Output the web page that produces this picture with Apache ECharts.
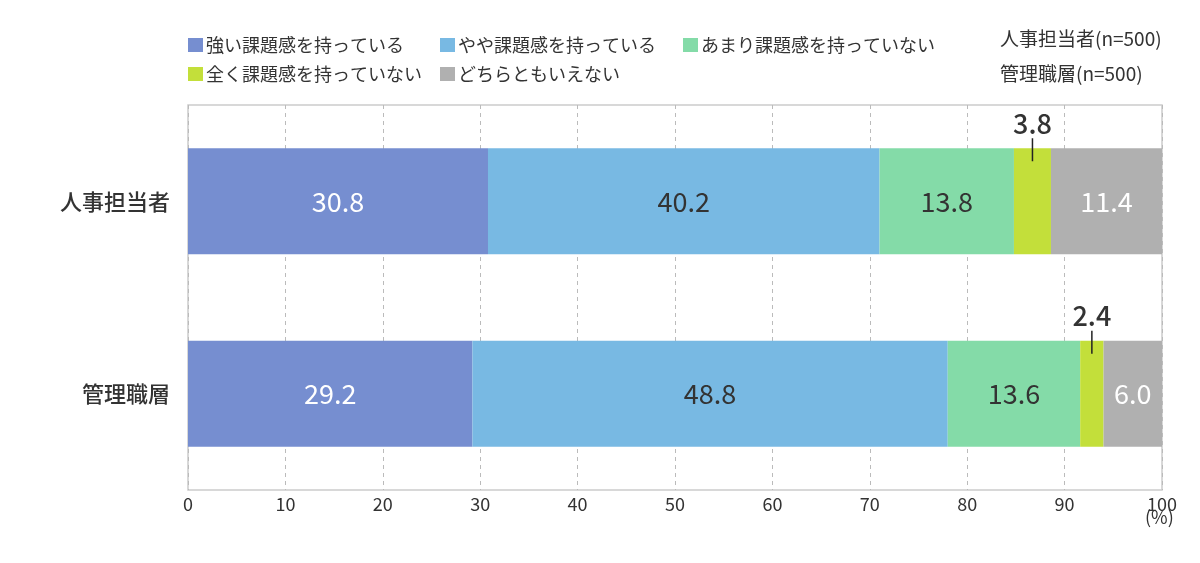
<!DOCTYPE html>
<html><head><meta charset="utf-8">
<script src="https://cdn.jsdelivr.net/npm/echarts@6/dist/echarts.min.js"></script>
<style>html,body{margin:0;padding:0;background:#fff}#c{width:1200px;height:563px}</style>
</head><body><div id="c"></div>
<script>
const categories = ['人事担当者', '管理職層'];
const seriesNames = ['強い課題感を持っている', 'やや課題感を持っている', 'あまり課題感を持っていない', '全く課題感を持っていない', 'どちらともいえない'];
const strong = [30.8, 29.2];
const somewhat = [40.2, 48.8];
const notMuch = [13.8, 13.6];
const notAtAll = [3.8, 2.4];
const neither = [11.4, 6.0];
const xTicks = [0, 10, 20, 30, 40, 50, 60, 70, 80, 90, 100];
const sampleNotes = ['人事担当者(n=500)', '管理職層(n=500)'];

const colors = ['#768ed0', '#78b9e3', '#84dba8', '#c3df3a', '#b0b0b0'];
const labelColors = ['#fff', '#333', '#333', '#333', '#fff'];
const values = [strong, somewhat, notMuch, notAtAll, neither];
const FONT = '"Noto Sans CJK JP", "Noto Sans", sans-serif';
const BAR_W = 106;

const chart = echarts.init(document.getElementById('c'));

const barSeries = values.map((arr, i) => ({
  name: seriesNames[i],
  type: 'bar',
  stack: 'total',
  barWidth: BAR_W,
  data: arr,
  itemStyle: { color: colors[i] },
  label: {
    show: i !== 3,
    position: 'inside',
    color: labelColors[i],
    fontSize: 27,
    fontFamily: FONT,
    formatter: p => p.value.toFixed(1)
  },
  emphasis: { disabled: true }
}));

// leader line + label for thin segment
const startsYellow = categories.map((c, k) => strong[k] + somewhat[k] + notMuch[k]);
const customData = categories.map((c, k) => [startsYellow[k], startsYellow[k] + notAtAll[k], k, notAtAll[k]]);
barSeries.push({
  type: 'custom',
  silent: true,
  data: customData,
  renderItem: (params, api) => {
    const mid = (api.value(0) + api.value(1)) / 2;
    const p = api.coord([mid, api.value(2)]);
    const top = p[1] - BAR_W / 2;
    return {
      type: 'group',
      children: [
        { type: 'line', shape: { x1: p[0], y1: top - 10, x2: p[0], y2: top + 13 }, style: { stroke: '#222', lineWidth: 1.5 } },
        { type: 'text', style: { x: p[0], y: top - 25, text: api.value(3).toFixed(1), fill: '#333', font: '500 27px ' + FONT, textAlign: 'center', textVerticalAlign: 'middle' } }
      ]
    };
  },
  z: 10
});

const legendLefts = [188, 440, 683, 188, 440];
const legendTops = [36, 36, 36, 65, 65];
const legends = seriesNames.map((n, i) => ({
  data: [n],
  left: legendLefts[i],
  top: legendTops[i],
  padding: 0,
  itemWidth: 15,
  itemHeight: 14,
  itemGap: 0,
  icon: 'rect',
  selectedMode: false,
  textStyle: { fontSize: 18, color: '#333', fontFamily: FONT, padding: [0, 0, 0, -2] }
}));

chart.setOption({
  animation: false,
  textStyle: { fontFamily: FONT },
  legend: legends,
  grid: { left: 188, right: 38, top: 105, bottom: 73, show: true, borderColor: '#ccc', borderWidth: 1.5 },
  xAxis: {
    type: 'value',
    min: 0, max: 100, interval: 10,
    axisLine: { show: false },
    axisTick: { show: false },
    axisLabel: { color: '#333', fontSize: 18, fontFamily: FONT, margin: 5, formatter: v => xTicks.includes(v) ? String(v) : '' },
    splitLine: { show: true, lineStyle: { type: [4, 4], color: '#bbb' } }
  },
  yAxis: {
    type: 'category',
    data: categories,
    inverse: true,
    axisLine: { show: false },
    axisTick: { show: false },
    axisLabel: { color: '#333', fontSize: 22, fontFamily: FONT, fontWeight: 500, margin: 18 }
  },
  graphic: [
    { type: 'text', left: 1000, top: 29, style: { text: sampleNotes[0], fill: '#333', font: '19px ' + FONT } },
    { type: 'text', left: 1000, top: 64, style: { text: sampleNotes[1], fill: '#333', font: '19px ' + FONT } },
    { type: 'text', left: 1145, top: 508, style: { text: '(%)', fill: '#333', font: '18px ' + FONT } }
  ],
  series: barSeries
});
</script></body></html>
